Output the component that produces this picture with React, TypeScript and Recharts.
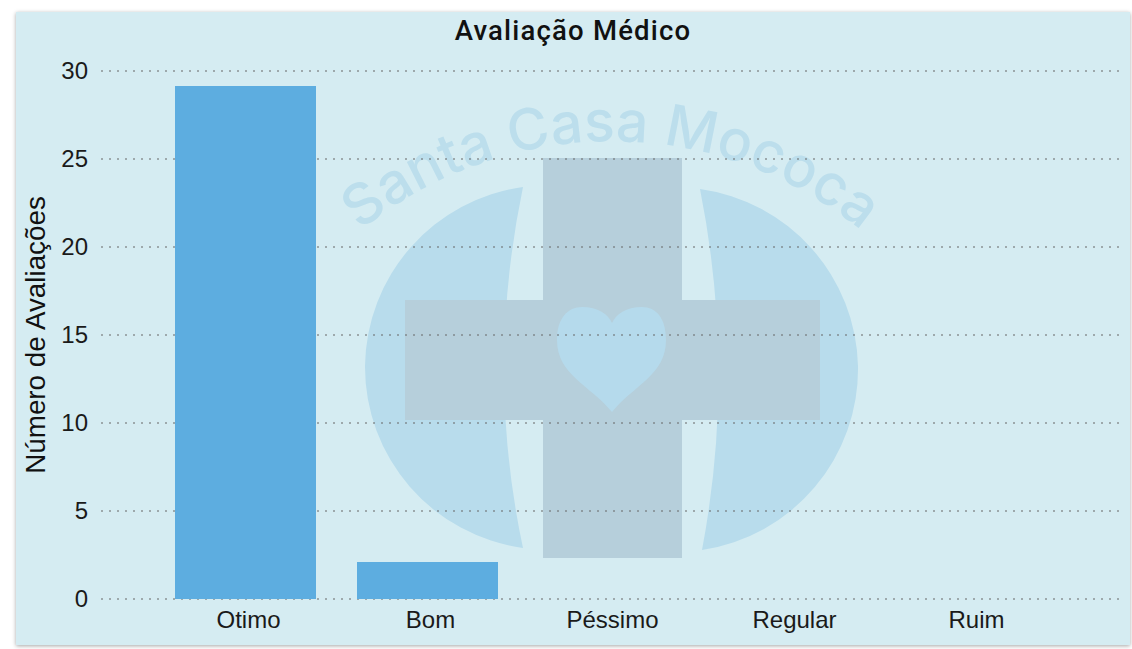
import React from 'react';
import { BarChart, Bar, XAxis, YAxis, CartesianGrid } from 'recharts';

const categories = ['Otimo', 'Bom', 'Péssimo', 'Regular', 'Ruim'];
const ratings = [29.15, 2.1, 0, 0, 0];
const yTicks = [0, 5, 10, 15, 20, 25, 30];

const chartData = categories.map((name, i) => ({ name, value: ratings[i] }));

const axisFont = '"Liberation Sans", Arial, sans-serif';

// logo sits behind the transparent chart
const Watermark = () => (
  <svg width={1132} height={649} style={{ position: 'absolute', left: 0, top: 0 }}>
    <defs>
      <path id="logoArc" d="M 291 304 A 396 396 0 0 1 931 304" />
    </defs>
    <path d="M 523 187 A 183 183 0 0 0 365 366 A 183 183 0 0 0 523 548 Q 485 370 523 187 Z" fill="#b8dcec" />
    <path d="M 700 189 A 183 183 0 0 1 858 366 A 183 183 0 0 1 702 550 Q 736 370 700 189 Z" fill="#b8dcec" />
    <rect x={543} y={158} width={139} height={400} fill="#b6cfdb" />
    <rect x={405} y={300} width={415} height={120} fill="#b6cfdb" />
    <path
      d="M 612 412 C 590 385 557 375 557 340 C 557 318 568 307 582 307 C 598 307 608 314 612 323 C 616 314 626 307 642 307 C 656 307 666 318 666 340 C 666 375 634 385 612 412 Z"
      fill="#b5daec"
    />
    <text fontFamily="Inter, sans-serif" fontWeight={500} fontSize={57} fill="#bcdeec" textAnchor="middle">
      <textPath href="#logoArc" startOffset="50%">
        Santa Casa Mococa
      </textPath>
    </text>
  </svg>
);

export default function App() {
  return (
    <div style={{ position: 'fixed', left: 0, top: 0, width: 1132, height: 649, background: '#fff', overflow: 'hidden' }}>
      <div
        style={{
          position: 'absolute',
          left: 16,
          top: 12,
          width: 1114,
          height: 633,
          background: '#d5ecf2',
          boxShadow: '0 1px 4px rgba(0,0,0,0.35)',
        }}
      />
      <Watermark />
      <div
        style={{
          position: 'absolute',
          left: 16,
          top: 14,
          width: 1114,
          textAlign: 'center',
          fontFamily: 'Roboto, sans-serif',
          fontWeight: 500,
          fontSize: 27.5,
          letterSpacing: 1.2,
          color: '#111',
        }}
      >
        Avaliação Médico
      </div>
      <div style={{ position: 'absolute', left: 0, top: 0 }}>
        <BarChart
          width={1132}
          height={649}
          data={chartData}
          margin={{ top: 71, right: 8, bottom: 20, left: 21 }}
        >
          <CartesianGrid vertical={false} stroke="#666" strokeDasharray="2 6" />
          <XAxis
            dataKey="name"
            axisLine={false}
            tickLine={false}
            padding={{ left: 53, right: 60 }}
            tickMargin={6}
            tick={{ fontFamily: axisFont, fontSize: 24, fill: '#1a1a1a', dx: 3.5 }}
            interval={0}
          />
          <YAxis
            domain={[0, 30]}
            ticks={yTicks}
            width={80}
            axisLine={false}
            tickLine={false}
            tickMargin={7}
            tick={{ fontFamily: axisFont, fontSize: 24, fill: '#1a1a1a', dy: -1 }}
            label={{
              value: 'Número de Avaliações',
              angle: -90,
              position: 'insideLeft',
              offset: 14,
              style: { textAnchor: 'middle', fontFamily: axisFont, fontSize: 27.8, fill: '#111' },
            }}
          />
          <Bar dataKey="value" fill="#5dade0" barSize={141} isAnimationActive={false} />
        </BarChart>
      </div>
    </div>
  );
}
